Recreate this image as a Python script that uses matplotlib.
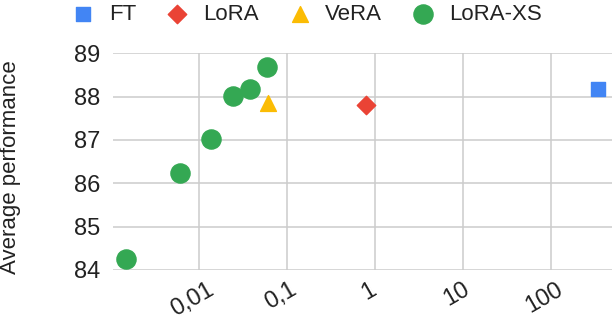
import matplotlib
matplotlib.use('Agg')
import matplotlib.pyplot as plt
import matplotlib.transforms as mtransforms

# trainable parameters (M, log scale) and average performance
ft_x = [347]
ft_y = [88.17]
lora_x = [0.8]
lora_y = [87.81]
vera_x = [0.061]
vera_y = [87.86]
xs_x = [0.0015, 0.0061, 0.0137, 0.0243, 0.0383, 0.0603]
xs_y = [84.25, 86.24, 87.02, 88.02, 88.17, 88.69]

x_ticks = [0.01, 0.1, 1, 10, 100]
x_labels = ['0,01', '0,1', '1', '10', '100']
y_ticks = [84, 85, 86, 87, 88, 89]

plt.rcParams['font.family'] = ['Liberation Sans', 'DejaVu Sans']

fig = plt.figure(figsize=(6.14, 3.24), dpi=100)
ax = fig.add_axes([0.184, 0.1667, 0.813, 0.669])

ax.scatter(ft_x, ft_y, marker='s', s=92, color='#4285F4', label='FT', clip_on=False, zorder=3)
ax.scatter(lora_x, lora_y, marker='D', s=88, color='#EA4335', label='LoRA', clip_on=False, zorder=3)
ax.scatter(vera_x, vera_y, marker='^', s=130, color='#FBBC04', label='VeRA', clip_on=False, zorder=3)
ax.scatter(xs_x, xs_y, marker='o', s=190, color='#34A853', label='LoRA-XS', clip_on=False, zorder=3)

ax.set_xscale('log')
ax.set_xlim(0.00106, 500)
ax.set_ylim(84, 89)
ax.set_xticks(x_ticks)
ax.set_xticklabels(x_labels, rotation=30, ha='center')
ax.minorticks_off()
ax.set_yticks(y_ticks)
ax.tick_params(axis='both', length=0, labelsize=17, colors='#222222')
ax.tick_params(axis='x', pad=6)
ax.tick_params(axis='y', pad=9)
shift = mtransforms.ScaledTranslation(-6 / 100, 0, fig.dpi_scale_trans)
for lab in ax.get_xticklabels():
    lab.set_transform(lab.get_transform() + shift)
ax.grid(True, color='#cccccc', linewidth=1.1)
ax.set_axisbelow(True)
for s in ax.spines.values():
    s.set_visible(False)

ax.set_ylabel('Average performance', fontsize=16, color='#222222')
ax.yaxis.set_label_coords(-0.184, 0.473)

leg = fig.legend(loc='upper center', bbox_to_anchor=(0.5, 1.05), ncol=4, frameon=False,
                 fontsize=16, handlelength=1.0, handletextpad=0.65, columnspacing=1.35,
                 scatterpoints=1, labelcolor='#222222')

fig.savefig('out.png', dpi=100)
